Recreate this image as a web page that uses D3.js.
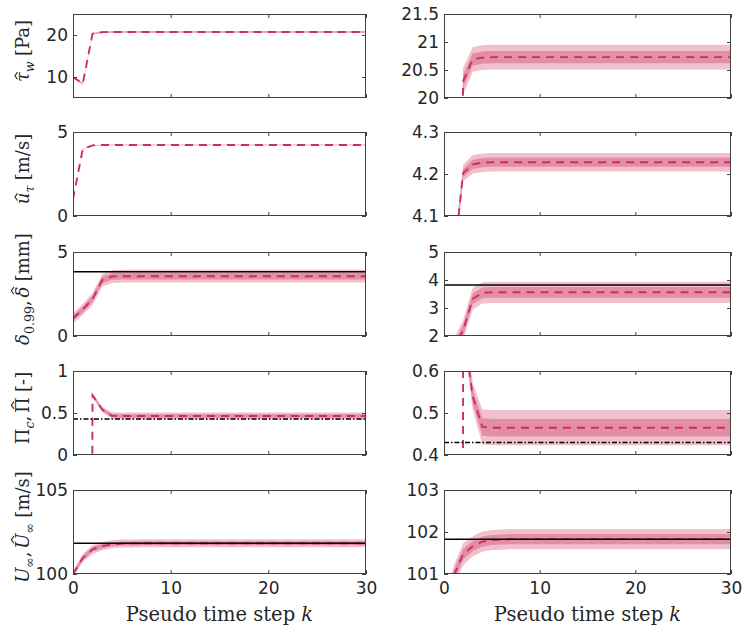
<!DOCTYPE html>
<html>
<head>
<meta charset="utf-8">
<script src="https://cdn.jsdelivr.net/npm/d3@7"></script>
<style>
  body { margin: 0; background: #fff; }
  svg { display: block; }
</style>
</head>
<body>
<svg width="748" height="633"></svg>
<script>
// pseudo time steps
const steps = [0, 1, 2, 3, 4, 5, 6, 7, 8, 9, 10, 11, 12, 13, 14, 15, 16, 17, 18, 19, 20,
               21, 22, 23, 24, 25, 26, 27, 28, 29, 30];

// wall shear stress estimate [Pa]
const tauMean = [10.00, 8.40, 20.30, 20.69, 20.72, 20.73, 20.73, 20.73, 20.73, 20.73,
                 20.73, 20.73, 20.73, 20.73, 20.73, 20.73, 20.73, 20.73, 20.73, 20.73,
                 20.73, 20.73, 20.73, 20.73, 20.73, 20.73, 20.73, 20.73, 20.73, 20.73, 20.73];
const tauSd   = [0.11, 0.11, 0.12, 0.11, 0.11, 0.11, 0.11, 0.11, 0.11, 0.11,
                 0.11, 0.11, 0.11, 0.11, 0.11, 0.11, 0.11, 0.11, 0.11, 0.11,
                 0.11, 0.11, 0.11, 0.11, 0.11, 0.11, 0.11, 0.11, 0.11, 0.11, 0.11];

// friction velocity estimate [m/s]
const uMean = [1.00, 3.99, 4.202, 4.223, 4.227, 4.228, 4.228, 4.228, 4.228, 4.228,
               4.228, 4.228, 4.228, 4.228, 4.228, 4.228, 4.228, 4.228, 4.228, 4.228,
               4.228, 4.228, 4.228, 4.228, 4.228, 4.228, 4.228, 4.228, 4.228, 4.228, 4.228];
const uSd   = [0.010, 0.010, 0.010, 0.011, 0.011, 0.011, 0.011, 0.011, 0.011, 0.011,
               0.011, 0.011, 0.011, 0.011, 0.011, 0.011, 0.011, 0.011, 0.011, 0.011,
               0.011, 0.011, 0.011, 0.011, 0.011, 0.011, 0.011, 0.011, 0.011, 0.011, 0.011];

// boundary layer thickness estimate [mm]
const deltaMean = [1.05, 1.58, 2.20, 3.33, 3.54, 3.56, 3.56, 3.56, 3.56, 3.56,
                   3.56, 3.56, 3.56, 3.56, 3.56, 3.56, 3.56, 3.56, 3.56, 3.56,
                   3.56, 3.56, 3.56, 3.56, 3.56, 3.56, 3.56, 3.56, 3.56, 3.56, 3.56];
const deltaSd   = [0.15, 0.16, 0.18, 0.19, 0.19, 0.19, 0.19, 0.19, 0.19, 0.19,
                   0.19, 0.19, 0.19, 0.19, 0.19, 0.19, 0.19, 0.19, 0.19, 0.19,
                   0.19, 0.19, 0.19, 0.19, 0.19, 0.19, 0.19, 0.19, 0.19, 0.19, 0.19];
const deltaRef = 3.82;

// wake parameter estimate [-]
const piMean = [0.15, -30, 0.71, 0.54, 0.467, 0.465, 0.465, 0.465, 0.465, 0.465,
                0.465, 0.465, 0.465, 0.465, 0.465, 0.465, 0.465, 0.465, 0.465, 0.465,
                0.465, 0.465, 0.465, 0.465, 0.465, 0.465, 0.465, 0.465, 0.465, 0.465, 0.465];
const piSd   = [0, 0, 0.012, 0.016, 0.021, 0.021, 0.021, 0.021, 0.021, 0.021,
                0.021, 0.021, 0.021, 0.021, 0.021, 0.021, 0.021, 0.021, 0.021, 0.021,
                0.021, 0.021, 0.021, 0.021, 0.021, 0.021, 0.021, 0.021, 0.021, 0.021, 0.021];
const piRef = 0.43;

// free-stream velocity estimate [m/s]
const UMean = [100.00, 100.95, 101.47, 101.66, 101.77, 101.81, 101.82, 101.83, 101.83, 101.83,
               101.83, 101.83, 101.83, 101.83, 101.83, 101.83, 101.83, 101.83, 101.83, 101.83,
               101.83, 101.83, 101.83, 101.83, 101.83, 101.83, 101.83, 101.83, 101.83, 101.83, 101.83];
const USd   = [0.10, 0.12, 0.13, 0.12, 0.12, 0.12, 0.12, 0.12, 0.12, 0.12,
               0.12, 0.12, 0.12, 0.12, 0.12, 0.12, 0.12, 0.12, 0.12, 0.12,
               0.12, 0.12, 0.12, 0.12, 0.12, 0.12, 0.12, 0.12, 0.12, 0.12, 0.12];
const URef = 101.83;

// axis limits and ticks
const xDomain = [0, 30];
const xTicks = [0, 10, 20, 30];
const leftDomains  = [[5, 25], [0, 5], [0, 5], [0, 1], [100, 105]];
const leftTicks    = [[10, 20], [0, 5], [0, 5], [0, 0.5, 1], [100, 105]];
const rightDomains = [[20, 21.5], [4.1, 4.3], [2, 5], [0.4, 0.6], [101, 103]];
const rightTicks   = [[20, 20.5, 21, 21.5], [4.1, 4.2, 4.3], [2, 3, 4, 5], [0.4, 0.5, 0.6], [101, 102, 103]];

const svg = d3.select("svg");

const colX = [[73, 366], [444, 731]];
const rowTop = [14, 132, 252, 371, 490];
const rowH = 84;

const lineColor = "#cc2f5c";
const outerColor = "#f1c0cc";
const innerColor = "#e28ea4";
const tickFont = "DejaVu Sans, sans-serif";
const serif = "DejaVu Serif, serif";

const series = [
  {mean: tauMean, sd: tauSd, ref: null},
  {mean: uMean, sd: uSd, ref: null},
  {mean: deltaMean, sd: deltaSd, ref: deltaRef, refDash: null},
  {mean: piMean, sd: piSd, ref: piRef, refDash: "5,2,1.5,2"},
  {mean: UMean, sd: USd, ref: URef, refDash: null}
];

const labels = [
  [{t: "τ", it: 1, hat: 1}, {t: "w", it: 1, sub: 1}, {gap: 0.3}, {t: "[Pa]"}],
  [{t: "u", it: 1, hat: 1}, {t: "τ", it: 1, sub: 1}, {gap: 0.3}, {t: "[m/s]"}],
  [{t: "δ", it: 1}, {t: "0.99", sub: 1}, {t: ","}, {gap: 0.15}, {t: "δ", it: 1, hat: 1, tall: 1}, {gap: 0.3}, {t: "[mm]"}],
  [{t: "Π"}, {t: "c", it: 1, sub: 1}, {t: ","}, {gap: 0.15}, {t: "Π", hat: 1, tall: 1}, {gap: 0.3}, {t: "[-]"}],
  [{t: "U", it: 1}, {t: "∞", sub: 1}, {t: ","}, {gap: 0.15}, {t: "U", it: 1, hat: 1, tall: 1}, {t: "∞", sub: 1}, {gap: 0.3}, {t: "[m/s]"}]
];

function mathLabel(g, parts, size) {
  let x = 0;
  parts.forEach(p => {
    if (p.gap) { x += p.gap * size; return; }
    const fs = p.sub ? size * 0.7 : size;
    const t = g.append("text")
      .attr("x", x)
      .attr("y", p.sub ? size * 0.25 : 0)
      .attr("font-size", fs)
      .attr("font-style", p.it ? "italic" : "normal")
      .text(p.t);
    const w = t.node().getComputedTextLength();
    if (p.hat) {
      // circumflex accent drawn as a small chevron
      const cx = x + w / 2 + (p.it ? size * 0.08 : 0);
      const base = p.tall ? -size * 0.84 : -size * 0.64;
      const hw = size * 0.2, hh = size * 0.14;
      g.append("path")
        .attr("d", "M" + (cx - hw) + "," + base + "L" + cx + "," + (base - hh) + "L" + (cx + hw) + "," + base)
        .attr("fill", "none")
        .attr("stroke", "#262626")
        .attr("stroke-width", 1.1);
    }
    x += w;
  });
  return x;
}

series.forEach((s, r) => {
  const top = rowTop[r];
  [0, 1].forEach(c => {
    const xr = colX[c];
    const x = d3.scaleLinear().domain(xDomain).range(xr);
    const y = d3.scaleLinear().domain(c ? rightDomains[r] : leftDomains[r]).range([top + rowH, top]);
    const id = "clip" + r + c;

    svg.append("clipPath").attr("id", id)
      .append("rect")
      .attr("x", xr[0]).attr("y", top)
      .attr("width", xr[1] - xr[0]).attr("height", rowH);

    const g = svg.append("g").attr("clip-path", "url(#" + id + ")");

    const band = m => d3.area()
      .x((d, i) => x(steps[i]))
      .y0((d, i) => y(s.mean[i] - m * s.sd[i]))
      .y1((d, i) => y(s.mean[i] + m * s.sd[i]));

    g.append("path").datum(s.mean).attr("d", band(2)).attr("fill", outerColor);
    g.append("path").datum(s.mean).attr("d", band(1)).attr("fill", innerColor);

    g.append("path").datum(s.mean)
      .attr("d", d3.line().x((d, i) => x(steps[i])).y(d => y(d)))
      .attr("fill", "none")
      .attr("stroke", lineColor)
      .attr("stroke-width", 1.9)
      .attr("stroke-dasharray", "8,6");

    if (s.ref !== null) {
      g.append("line")
        .attr("x1", xr[0]).attr("x2", xr[1])
        .attr("y1", y(s.ref)).attr("y2", y(s.ref))
        .attr("stroke", "#000")
        .attr("stroke-width", 1.5)
        .attr("stroke-dasharray", s.refDash);
    }

    // axes with inward ticks on all four sides
    const ticksY = c ? rightTicks[r] : leftTicks[r];
    const axes = [
      {ax: d3.axisBottom(x).tickValues(xTicks).tickFormat(r === 4 ? d3.format("") : () => ""),
       tr: [0, top + rowH], pad: 8},
      {ax: d3.axisTop(x).tickValues(xTicks).tickFormat(() => ""), tr: [0, top]},
      {ax: d3.axisLeft(y).tickValues(ticksY).tickFormat(d => String(d)), tr: [xr[0], 0], pad: 5},
      {ax: d3.axisRight(y).tickValues(ticksY).tickFormat(() => ""), tr: [xr[1], 0]}
    ];
    axes.forEach(a => {
      const ag = svg.append("g")
        .attr("transform", "translate(" + a.tr[0] + "," + a.tr[1] + ")")
        .call(a.ax.tickSizeInner(-4).tickSizeOuter(0).tickPadding(a.pad || 3));
      ag.select(".domain").remove();
      ag.selectAll(".tick line").attr("stroke", "#404040");
      ag.selectAll(".tick text")
        .attr("font-family", tickFont)
        .attr("font-size", 17)
        .attr("fill", "#262626");
    });

    svg.append("rect")
      .attr("x", xr[0] + 0.5).attr("y", top + 0.5)
      .attr("width", xr[1] - xr[0] - 1).attr("height", rowH - 1)
      .attr("fill", "none")
      .attr("stroke", "#404040")
      .attr("stroke-width", 1);
  });

  // rotated y label on the left column
  const lg = svg.append("g")
    .attr("transform", "translate(29," + (top + rowH / 2 - 5) + ") rotate(-90)")
    .attr("font-family", serif)
    .attr("fill", "#262626");
  const inner = lg.append("g");
  const w = mathLabel(inner, labels[r], 18);
  inner.attr("transform", "translate(" + (-w / 2) + ",0)");
});

// x labels
colX.forEach(xr => {
  const t = svg.append("text")
    .attr("x", (xr[0] + xr[1]) / 2)
    .attr("y", 621)
    .attr("text-anchor", "middle")
    .attr("font-family", serif)
    .attr("font-size", 19.5)
    .attr("fill", "#262626");
  t.append("tspan").text("Pseudo time step ");
  t.append("tspan").attr("font-style", "italic").text("k");
});
</script>
</body>
</html>
